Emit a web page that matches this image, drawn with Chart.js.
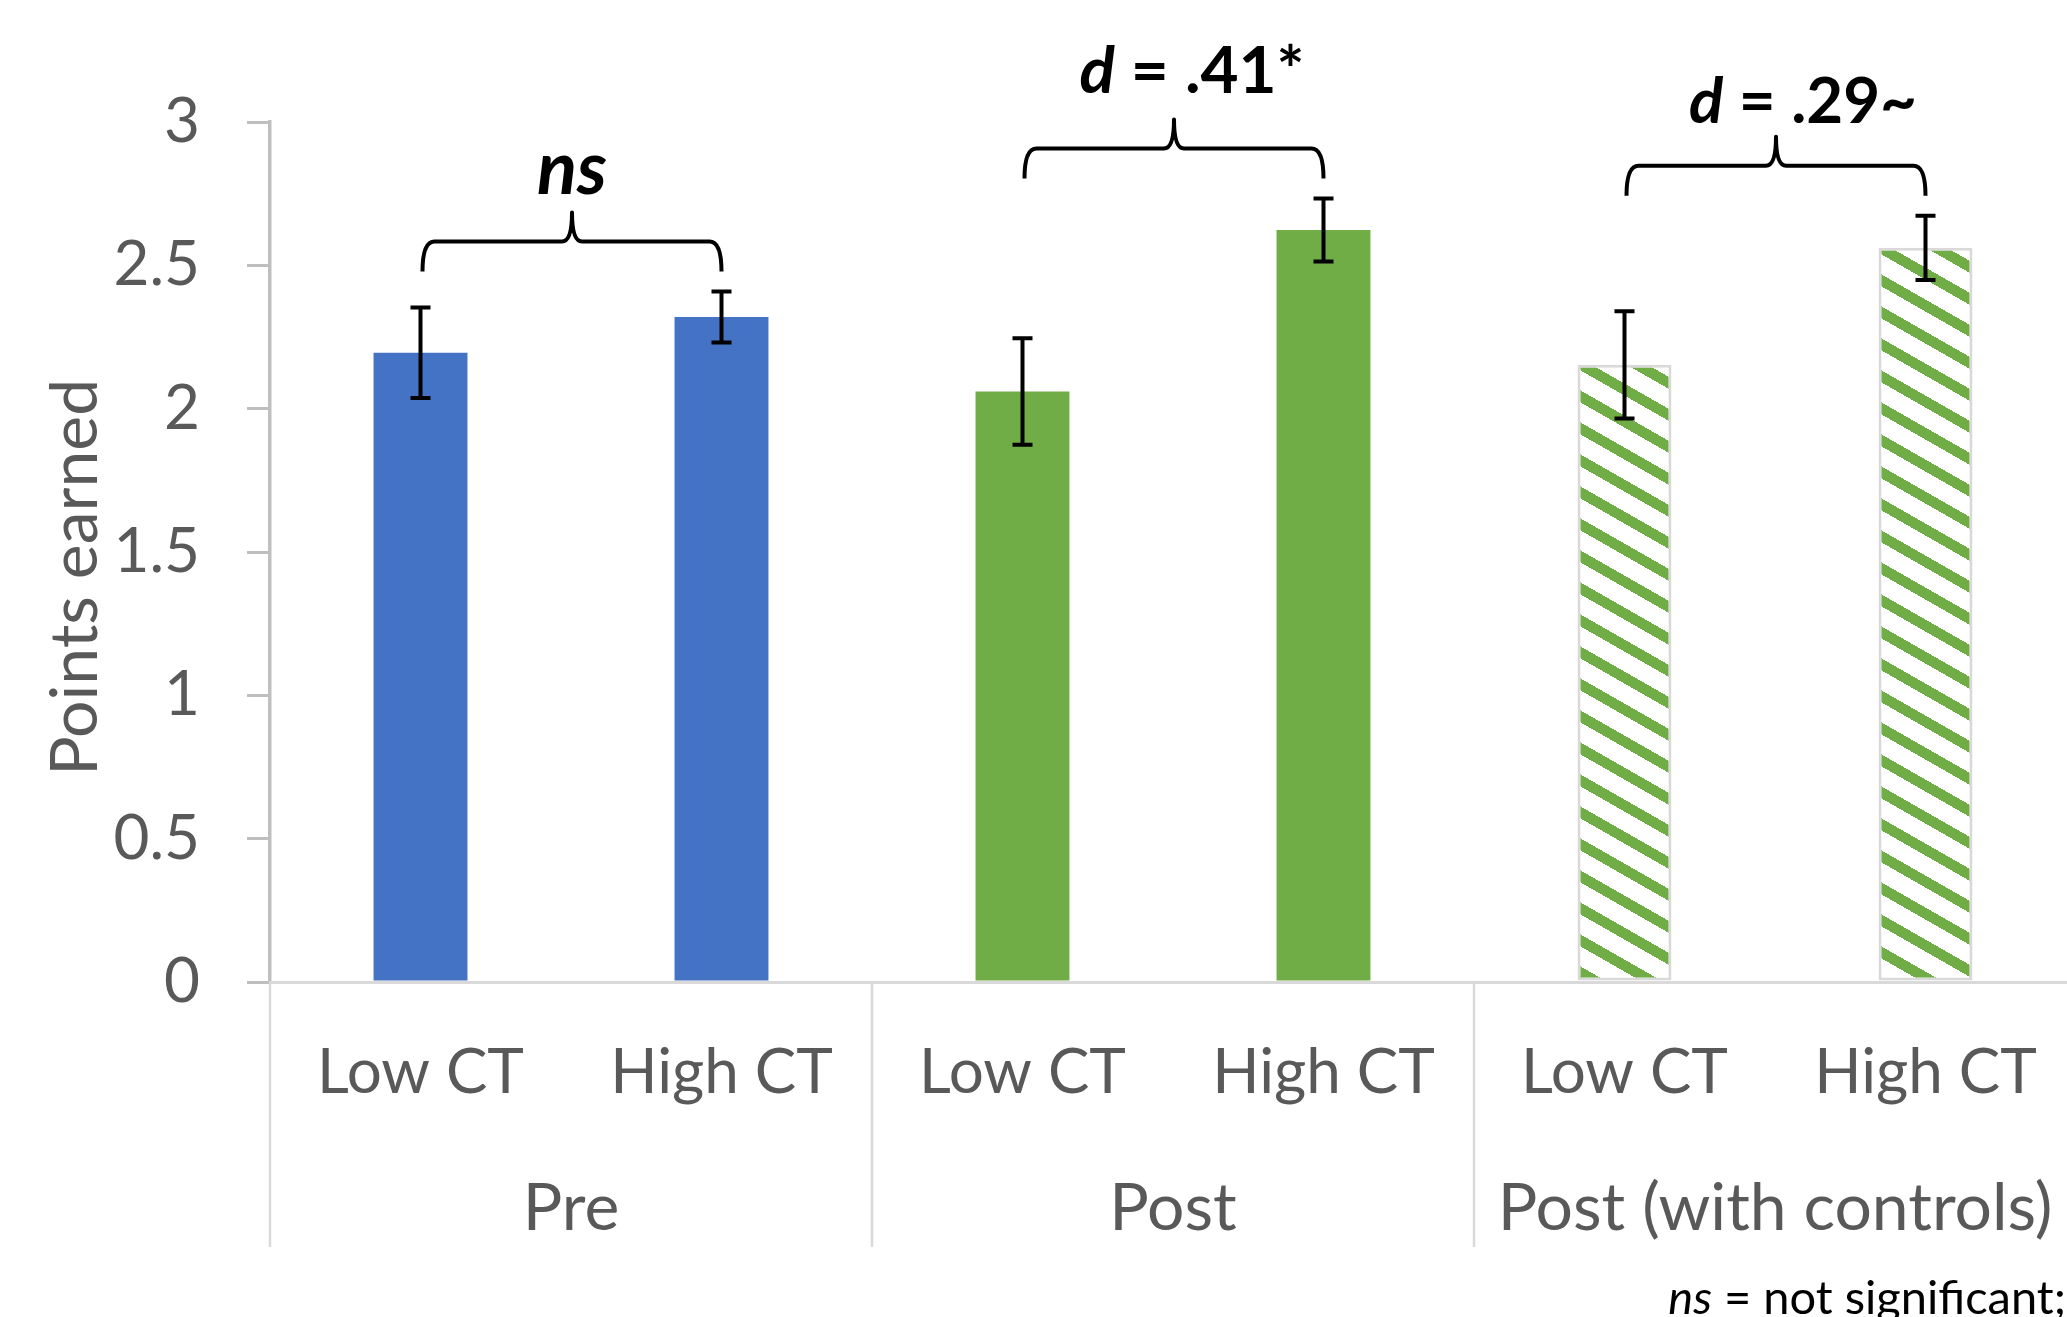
<!DOCTYPE html>
<html><head><meta charset="utf-8">
<script src="https://cdn.jsdelivr.net/npm/chart.js@4.4.1/dist/chart.umd.min.js"></script>
<style>html,body{margin:0;padding:0;background:#fff;overflow:hidden;width:2067px;height:1317px}#wrap{width:2067px;height:1317px;overflow:hidden}canvas{display:block}</style>
</head><body>
<div id="wrap"><canvas id="c" width="2076" height="1317" style="width:2076px;height:1317px"></canvas></div>
<script>
// ---- data ----
const categories = ['Low CT', 'High CT', 'Low CT', 'High CT', 'Low CT', 'High CT'];
const groups = ['Pre', 'Post', 'Post (with controls)'];
const means = [2.195, 2.32, 2.06, 2.623, 2.153, 2.561];
const errors = [0.158, 0.089, 0.186, 0.11, 0.187, 0.112];
const yTicks = [0, 0.5, 1, 1.5, 2, 2.5, 3];
const comparePairs = [[0, 1], [2, 3], [4, 5]];
const compareLabels = [['ns', ''], ['d', ' = .41*'], ['d', ' = .29~']];
const footnote = ['ns', ' = not significant;'];
const yTitle = 'Points earned';

// ---- styles ----
const BLUE = '#4472c4', GREEN = '#70ad47', TXT = '#595959';
const FONT = 'Lato';
const labelDx = [0, 18, 27];
const labelDy = [-18, -27, -14];
const labelWidths = [70, 225, 228];

const canvas = document.getElementById('c');
const ctx0 = canvas.getContext('2d');
function makeHatch() {
  const W = 56, H = 32;
  const c = document.createElement('canvas'); c.width = W; c.height = H;
  const g = c.getContext('2d');
  g.fillStyle = '#fff'; g.fillRect(0, 0, W, H);
  g.fillStyle = GREEN;
  for (let x = 0; x < W; x++) {
    const y0 = Math.floor(x * 4 / 7);
    for (const off of [-32, 0, 32]) g.fillRect(x, y0 + off, 1, 12);
  }
  return ctx0.createPattern(c, 'repeat');
}
const hatch = makeHatch();

const errorBars = {
  id: 'errorBars',
  afterDatasetsDraw(chart) {
    const ctx = chart.ctx, y = chart.scales.y;
    const meta = chart.getDatasetMeta(0);
    ctx.save();
    ctx.strokeStyle = '#000'; ctx.lineWidth = 4; ctx.lineCap = 'butt';
    meta.data.forEach((el, i) => {
      const x = el.x;
      const t = y.getPixelForValue(means[i] + errors[i]);
      const b = y.getPixelForValue(means[i] - errors[i]);
      ctx.beginPath();
      ctx.moveTo(x, t); ctx.lineTo(x, b);
      ctx.moveTo(x - 10, t); ctx.lineTo(x + 10, t);
      ctx.moveTo(x - 10, b); ctx.lineTo(x + 10, b);
      ctx.stroke();
    });
    ctx.restore();
  }
};

function measureParts(ctx, parts, size, weight) {
  ctx.font = `italic ${weight} ${size}px ${FONT}`; const w1 = ctx.measureText(parts[0]).width;
  ctx.font = `${weight} ${size}px ${FONT}`; const w2 = ctx.measureText(parts[1]).width;
  return w1 + w2;
}
function renderParts(ctx, parts, size, weight, x, baseline, color, align) {
  const fi = `italic ${weight} ${size}px ${FONT}`, fn = `${weight} ${size}px ${FONT}`;
  ctx.font = fi; const w1 = ctx.measureText(parts[0]).width;
  ctx.font = fn; const w2 = ctx.measureText(parts[1]).width;
  const left = align === 'right' ? x - (w1 + w2) : x - (w1 + w2) / 2;
  ctx.fillStyle = color; ctx.textBaseline = 'alphabetic'; ctx.textAlign = 'left';
  ctx.font = fi; ctx.fillText(parts[0], left, baseline);
  ctx.font = fn; ctx.fillText(parts[1], left + w1, baseline);
}

const annotations = {
  id: 'annotations',
  afterDraw(chart) {
    const ctx = chart.ctx, y = chart.scales.y, x = chart.scales.x, x2 = chart.scales.x2;
    const meta = chart.getDatasetMeta(0);
    ctx.save();
    // group separators
    ctx.strokeStyle = '#d9d9d9'; ctx.lineWidth = 2.5;
    for (let g = 0; g < groups.length; g++) {
      const i = g * 2;
      const px = i === 0 ? chart.chartArea.left : (x.getPixelForValue(i - 1) + x.getPixelForValue(i)) / 2;
      ctx.beginPath(); ctx.moveTo(px, chart.chartArea.bottom + 1.5); ctx.lineTo(px, x2.bottom); ctx.stroke();
    }
    // braces
    ctx.strokeStyle = '#000'; ctx.lineWidth = 4; ctx.lineJoin = 'round';
    comparePairs.forEach(([a, b], k) => {
      const xl = meta.data[a].x + 2, xr = meta.data[b].x;
      const top = Math.min(y.getPixelForValue(means[a] + errors[a]), y.getPixelForValue(means[b] + errors[b]));
      const yEnd = top - 20, yH = yEnd - 30, yPk = yH - 29;
      const xm = (xl + xr) / 2;
      ctx.beginPath();
      ctx.moveTo(xl, yEnd);
      ctx.quadraticCurveTo(xl, yH, xl + 12, yH);
      ctx.lineTo(xm - 10, yH);
      ctx.quadraticCurveTo(xm, yH, xm, yPk);
      ctx.quadraticCurveTo(xm, yH, xm + 10, yH);
      ctx.lineTo(xr - 12, yH);
      ctx.quadraticCurveTo(xr, yH, xr, yEnd);
      ctx.stroke();
      const w68 = measureParts(ctx, compareLabels[k], 68, 'bold');
      const size = Math.max(62, Math.min(74, 68 * labelWidths[k] / w68));
      renderParts(ctx, compareLabels[k], size, 'bold', xm + labelDx[k], yPk + labelDy[k], '#000', 'center');
    });
    // footnote
    renderParts(ctx, footnote, 47, 'normal', 2066, 1314, '#000', 'right');
    ctx.restore();
  }
};

const noPad = s => { s.paddingLeft = 0; s.paddingRight = 0; };

new Chart(canvas, {
  type: 'bar',
  data: {
    labels: categories,
    datasets: [{
      data: means,
      backgroundColor: [BLUE, BLUE, GREEN, GREEN, hatch, hatch],
      borderColor: ['rgba(0,0,0,0)', 'rgba(0,0,0,0)', 'rgba(0,0,0,0)', 'rgba(0,0,0,0)', '#d9d9d9', '#d9d9d9'],
      borderWidth: [0, 0, 0, 0, 3, 3],
      borderSkipped: false,
      barPercentage: 0.312,
      categoryPercentage: 1
    }]
  },
  options: {
    responsive: false,
    animation: false,
    devicePixelRatio: 1,
    layout: { padding: { top: 122, right: 0, bottom: 70, left: 0 } },
    plugins: { legend: { display: false }, tooltip: { enabled: false } },
    scales: {
      y: {
        min: 0, max: 3,
        afterBuildTicks: s => { s.ticks = yTicks.map(v => ({ value: v })); },
        afterFit: s => { s.width = 270; },
        grid: { drawOnChartArea: false, drawTicks: true, tickLength: 23, color: '#bfbfbf', lineWidth: 3 },
        border: { display: true, color: '#bfbfbf', width: 3.5 },
        ticks: { color: TXT, font: { family: FONT, size: 62 }, padding: 47, callback: v => String(v) },
        title: { display: true, text: yTitle + '   ', color: TXT, font: { family: FONT, size: 66, lineHeight: 1.2 }, padding: { top: 36, bottom: 0 } }
      },
      x: {
        weight: 0,
        afterFit: s => { s.height = 165; noPad(s); },
        grid: { display: false },
        border: { display: true, color: '#d9d9d9', width: 3 },
        ticks: { color: TXT, font: { family: FONT, size: 62, lineHeight: 1.2 }, padding: 46, autoSkip: false, maxRotation: 0 }
      },
      x2: {
        type: 'category', position: 'bottom', weight: 1,
        labels: groups,
        afterFit: s => { s.height = 100; noPad(s); },
        grid: { display: false },
        border: { display: false },
        ticks: { color: TXT, font: { family: FONT, size: 66, lineHeight: 1.2 }, padding: 14, autoSkip: false, maxRotation: 0 }
      }
    }
  },
  plugins: [errorBars, annotations]
});
</script>
</body></html>
